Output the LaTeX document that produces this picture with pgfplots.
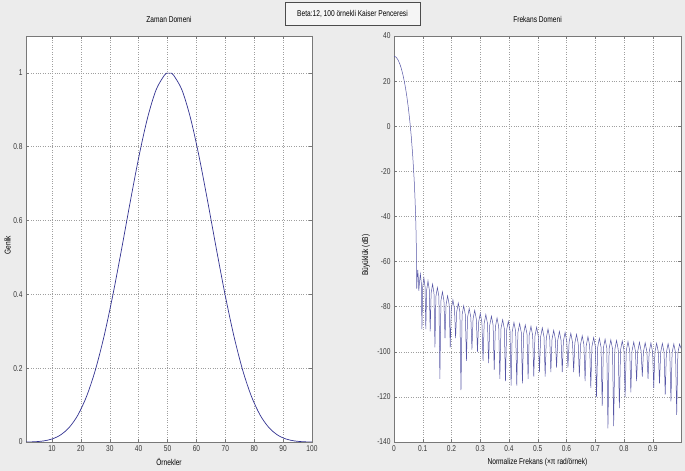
\documentclass[border=0pt]{standalone}
\usepackage{fontspec}
\setmainfont{Liberation Sans}[FakeStretch=0.78]
\usepackage{pgfplots}
\pgfplotsset{compat=1.18}
\definecolor{bg}{RGB}{236,236,236}
\definecolor{curve}{RGB}{50,50,145}
\definecolor{curvelight}{RGB}{85,85,165}
\definecolor{axc}{RGB}{120,120,120}
\definecolor{txt}{RGB}{55,55,55}
\pgfplotsset{
  mystyle/.style={
    scale only axis, anchor=south west,
    axis background/.style={fill=white},
    axis line style={axc, line width=0.6pt},
    tick align=inside, tick pos=both,
    major tick length=3bp,
    every tick/.style={axc, line width=0.5pt},
    grid=major,
    major grid style={dotted, gray!75, line width=0.5pt},
    tick label style={font=\fontsize{8.5}{9}\selectfont, text=txt},
    label style={font=\fontsize{8.5}{9}\selectfont, text=black},
    title style={font=\fontsize{8.5}{9}\selectfont, text=black, at={(axis description cs:0.5,1.027)}, anchor=center},
    /pgf/number format/assume math mode=true,
  }
}
\begin{document}
\begin{tikzpicture}[x=1bp,y=1bp]
\fill[bg] (0,0) rectangle (685,471);
\begin{axis}[mystyle,
  at={(26bp,29bp)}, width=286bp, height=406bp,
  xmin=1, xmax=100, ymin=0, ymax=1.1,
  xtick={10,20,30,40,50,60,70,80,90,100},
  ytick={0,0.2,0.4,0.6,0.8,1},
  title={Zaman Domeni},
  xlabel={Örnekler},
  ylabel={Genlik},
  xlabel style={at={(axis description cs:0.5,-0.049)}, anchor=center},
  ylabel style={at={(axis description cs:-0.064,0.485)}, anchor=center, rotate=0},
]
\addplot[curve, line width=0.7pt, smooth] coordinates {
(1,0.00005) (4,0.00066) (7,0.00277) (10,0.00811) (13,0.01930) (16,0.03980)
(19,0.07353) (22,0.12427) (25,0.19480) (28,0.28592) (31,0.39566) (34,0.51884)
(37,0.64719) (40,0.77005) (43,0.87582) (46,0.95354) (49,0.99473) (50,0.99941)
(51,0.99941) (52,0.99473) (55,0.95354) (58,0.87582) (61,0.77005) (64,0.64719)
(67,0.51884) (70,0.39566) (73,0.28592) (76,0.19480) (79,0.12427) (82,0.07353)
(85,0.03980) (88,0.01930) (91,0.00811) (94,0.00277) (97,0.00066) (100,0.00005)
};
\end{axis}
\begin{axis}[mystyle,
  at={(394bp,29bp)}, width=287bp, height=406bp,
  xmin=0, xmax=0.998, ymin=-140, ymax=40,
  xtick={0,0.1,0.2,0.3,0.4,0.5,0.6,0.7,0.8,0.9},
  ytick={-140,-120,-100,-80,-60,-40,-20,0,20,40},
  title={Frekans Domeni},
  xlabel={Normalize Frekans (×π rad/örnek)},
  ylabel={Büyüklük (dB)},
  xlabel style={at={(axis description cs:0.5,-0.049)}, anchor=center},
  ylabel style={at={(axis description cs:-0.098,0.46)}, anchor=center, rotate=0},
]
\addplot[curvelight, line width=0.5pt] coordinates {
(0,31.0) (0.005,30.79) (0.01,30.17) (0.015,29.13) (0.02,27.66) (0.025,25.75)
(0.03,23.34) (0.035,20.43) (0.04,16.95) (0.045,12.84) (0.05,8.00) (0.055,2.27)
(0.06,-4.56) (0.065,-12.89) (0.07,-23.55) (0.0725,-30.36) (0.075,-39.09)
(0.0764,-45.6) (0.0775,-52.9) (0.078,-57.6) (0.0785,-65) (0.079,-72)
(0.0804,-67.7) (0.0826,-63.7) (0.0848,-67.7) (0.0862,-73)
(0.0884,-69.5) (0.0917,-65.5) (0.0949,-69.5) (0.0971,-90)
(0.0998,-71.2) (0.1039,-67.2) (0.1079,-71.2) (0.1106,-90)
(0.1136,-72.6) (0.1182,-68.6) (0.1228,-72.6) (0.1258,-91)
(0.1291,-74) (0.1341,-70) (0.1390,-74) (0.1423,-98)
(0.1457,-75.5) (0.1509,-71.5) (0.1561,-75.5) (0.1595,-112)
(0.1631,-77.4) (0.1684,-73.4) (0.1737,-77.4) (0.1773,-94)
(0.1809,-79.2) (0.1864,-75.2) (0.1919,-79.2) (0.1955,-98)
(0.1992,-81) (0.2048,-77) (0.2104,-81) (0.2141,-94)
(0.2179,-82.4) (0.2235,-78.4) (0.2291,-82.4) (0.2329,-117)
(0.2367,-83.6) (0.2424,-79.6) (0.2481,-83.6) (0.2519,-104)
(0.2557,-84.8) (0.2615,-80.8) (0.2672,-84.8) (0.2710,-99)
(0.2748,-85.6) (0.2806,-81.6) (0.2864,-85.6) (0.2902,-100)
(0.2941,-87) (0.2999,-83) (0.3057,-87) (0.3096,-104)
(0.3135,-87.5) (0.3193,-83.5) (0.3251,-87.5) (0.3290,-105)
(0.3329,-88.2) (0.3388,-84.2) (0.3446,-88.2) (0.3485,-108)
(0.3524,-89) (0.3583,-85) (0.3641,-89) (0.3680,-112)
(0.3719,-89.8) (0.3778,-85.8) (0.3837,-89.8) (0.3876,-113)
(0.3915,-90.5) (0.3974,-86.5) (0.4033,-90.5) (0.4072,-115)
(0.4111,-91) (0.4171,-87) (0.4230,-91) (0.4269,-115)
(0.4308,-91.5) (0.4368,-87.5) (0.4427,-91.5) (0.4466,-114)
(0.4505,-92.1) (0.4565,-88.1) (0.4624,-92.1) (0.4663,-112)
(0.4702,-92.7) (0.4762,-88.7) (0.4821,-92.7) (0.4860,-111)
(0.4900,-93.1) (0.4959,-89.1) (0.5018,-93.1) (0.5058,-109)
(0.5098,-93.4) (0.5157,-89.4) (0.5216,-93.4) (0.5256,-111)
(0.5296,-93.9) (0.5355,-89.9) (0.5414,-93.9) (0.5454,-109)
(0.5494,-94.5) (0.5553,-90.5) (0.5612,-94.5) (0.5652,-107)
(0.5692,-95) (0.5751,-91) (0.5810,-95) (0.5850,-109)
(0.5890,-95.4) (0.5949,-91.4) (0.6008,-95.4) (0.6048,-107)
(0.6088,-95.8) (0.6148,-91.8) (0.6207,-95.8) (0.6247,-109)
(0.6287,-96.3) (0.6346,-92.3) (0.6405,-96.3) (0.6445,-111)
(0.6485,-96.9) (0.6545,-92.9) (0.6604,-96.9) (0.6644,-113)
(0.6684,-97.3) (0.6744,-93.3) (0.6803,-97.3) (0.6843,-116)
(0.6883,-97.7) (0.6943,-93.7) (0.7002,-97.7) (0.7042,-120)
(0.7082,-98) (0.7141,-94) (0.7200,-98) (0.7240,-124)
(0.7280,-98.4) (0.7340,-94.4) (0.7399,-98.4) (0.7439,-134)
(0.7479,-98.7) (0.7539,-94.7) (0.7598,-98.7) (0.7638,-133)
(0.7678,-99) (0.7738,-95) (0.7797,-99) (0.7837,-125)
(0.7877,-99.2) (0.7937,-95.2) (0.7996,-99.2) (0.8036,-120)
(0.8076,-99.5) (0.8136,-95.5) (0.8196,-99.5) (0.8236,-118)
(0.8276,-99.7) (0.8336,-95.7) (0.8395,-99.7) (0.8435,-113)
(0.8475,-99.8) (0.8535,-95.8) (0.8594,-99.8) (0.8634,-111)
(0.8674,-100) (0.8734,-96) (0.8793,-100) (0.8833,-112)
(0.8873,-100.1) (0.8933,-96.1) (0.8992,-100.1) (0.9032,-116)
(0.9072,-100.2) (0.9132,-96.2) (0.9192,-100.2) (0.9232,-114)
(0.9272,-100.3) (0.9332,-96.3) (0.9391,-100.3) (0.9431,-119)
(0.9471,-100.4) (0.9531,-96.4) (0.9590,-100.4) (0.9630,-122)
(0.9670,-100.5) (0.9730,-96.5) (0.9790,-100.5) (0.9830,-128)
(0.9870,-100.6) (0.9930,-96.6) (0.998,-98.5)
};
\end{axis}
\node[draw=gray!60!black, fill=bg!50!white, line width=0.6pt, minimum width=135bp, minimum height=23bp, inner sep=0pt, font=\fontsize{8.5}{9}\selectfont] at (352.5,456.8) {Beta:12, 100 örnekli Kaiser Penceresi};
\end{tikzpicture}
\end{document}
